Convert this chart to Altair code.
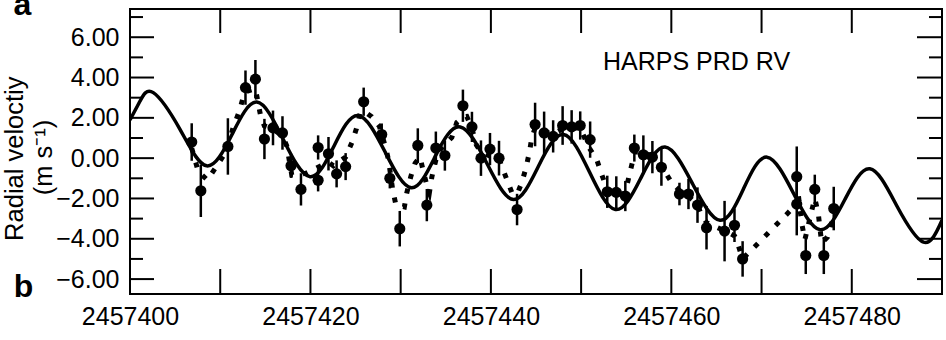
import altair as alt
import pandas as pd

JD0 = 2457400

# Observations (JD - 2457400), RV (m/s), error
obs_t = [6.84, 7.85, 10.85, 12.8, 13.9, 14.9, 15.85, 16.9, 17.85, 18.95,
         20.85, 20.85, 22.0, 22.9, 23.9, 25.9, 27.9, 28.8, 29.9, 31.9,
         32.9, 33.9, 34.9, 36.9, 37.9, 38.9, 39.9, 40.9, 42.9, 44.9,
         45.9, 46.9, 47.95, 48.95, 49.9, 51.0, 52.9, 53.9, 54.9, 55.9,
         56.9, 57.9, 58.9, 60.9, 61.9, 62.9, 63.9, 65.9, 67.0, 67.9,
         73.9, 73.9, 74.9, 75.9, 76.9, 78.0]
obs_v = [0.80, -1.62, 0.58, 3.50, 3.92, 0.95, 1.50, 1.25, -0.38, -1.55,
         0.53, -1.10, 0.22, -0.78, -0.42, 2.80, 1.17, -1.00, -3.50, 0.63,
         -2.33, 0.50, 0.13, 2.60, 1.55, 0.00, 0.45, 0.00, -2.55, 1.67,
         1.25, 1.08, 1.62, 1.55, 1.62, 0.92, -1.67, -1.70, -1.88, 0.50,
         0.17, 0.05, -0.45, -1.78, -1.78, -2.33, -3.45, -3.62, -3.33, -5.00,
         -0.92, -2.28, -4.83, -1.55, -4.83, -2.50]
obs_err = [0.93, 1.3, 1.4, 0.85, 0.95, 1.0, 0.86, 0.83, 0.6, 0.8,
           0.6, 0.55, 0.83, 0.67, 0.67, 0.7, 0.55, 0.5, 0.88, 0.85,
           0.8, 0.82, 0.75, 0.8, 0.75, 0.88, 0.8, 0.86, 0.78, 1.08,
           1.06, 0.8, 0.96, 0.83, 0.7, 0.9, 0.8, 0.8, 0.75, 0.67,
           0.96, 0.8, 0.92, 0.56, 0.75, 0.88, 1.08, 1.5, 0.83, 0.88,
           1.5, 1.55, 0.92, 0.73, 0.92, 1.08]

# Solid fitted curve (read at extrema and crossings)
fit_t = [0, 1.1, 2.58, 5.54, 8.5, 11.28, 14.05, 16.99, 19.96, 22.63,
         25.3, 28.25, 31.2, 33.9, 36.6, 39.55, 42.5, 45.27, 48.05, 50.93,
         53.8, 56.55, 59.3, 62.35, 65.4, 68.0, 70.6, 73.55, 76.5, 79.25,
         82.0, 84.97, 87.95, 90.0]
fit_v = [1.9, 2.82, 3.25, 1.43, -0.38, 1.15, 2.78, 0.93, -0.92, 0.62,
         2.12, 0.33, -1.47, 0.15, 1.55, -0.25, -2.05, -0.4, 1.17, -0.69,
         -2.55, -1.05, 0.55, -1.27, -3.08, -1.52, 0.05, -1.75, -3.55, -2.04,
         -0.53, -2.35, -4.17, -3.08]

# Dotted model path
model_t = [6.84, 7.57, 8.57, 9.53, 10.42, 10.85, 11.45, 12.12, 12.56, 12.8,
           13.9, 14.52, 14.9, 15.85, 16.9, 17.37, 17.93, 18.3, 19.5, 20.85,
           22.0, 22.54, 23.9, 24.6, 25.1, 25.5, 25.9, 26.8, 27.64, 28.27,
           28.64, 29.12, 29.48, 30.41, 30.68, 31.12, 31.6, 32.15, 32.52, 32.96,
           33.18, 33.45, 33.81, 34.18, 35.67, 36.22, 36.9, 37.33, 37.88, 38.39,
           38.9, 39.9, 40.9, 41.13, 41.69, 42.32, 42.9, 43.42, 43.9, 44.27,
           44.53, 44.9, 45.9, 46.9, 47.95, 48.95, 49.9, 50.8, 51.74, 52.3,
           52.85, 53.9, 54.9, 55.07, 55.43, 55.8, 55.9, 56.9, 57.9, 58.9,
           60.05, 60.9, 61.9, 62.9, 63.27, 63.9, 65.9, 67.0, 67.26, 67.9,
           73.9, 74.05, 74.45, 74.8, 75.55, 75.9, 76.28, 76.66, 77.3, 77.78,
           78.0]
model_v = [0.5, -0.67, -1.08, -0.45, 0.17, 0.6, 1.55, 2.33, 3.05, 3.3,
           3.45, 2.0, 1.6, 1.45, 1.1, 0.62, -0.83, -0.85, -0.75, -0.45,
           -0.2, -0.38, 0.05, 0.78, 1.47, 2.2, 2.35, 2.05, 1.58, 0.62,
           -0.05, -1.58, -2.33, -2.42, -1.72, -0.92, -0.25, 0.05, -0.67, -1.45,
           -1.72, -0.95, -0.25, 0.33, 1.03, 1.77, 2.05, 2.07, 1.5, 0.65,
           0.3, 0.1, 0.0, -0.33, -0.97, -1.7, -1.8, -1.22, -0.47, 0.3,
           1.0, 1.5, 1.3, 1.2, 1.45, 1.5, 1.5, 0.58, -0.08, -0.83,
           -1.5, -1.8, -1.75, -1.37, -0.67, 0.0, 0.3, 0.3, 0.1, -0.4,
           -1.22, -1.6, -1.9, -2.3, -2.75, -3.2, -3.6, -3.85, -4.1, -5.0,
           -2.28, -1.72, -3.22, -4.05, -2.62, -2.0, -2.72, -4.2, -3.92, -3.17,
           -2.7]

x_label_values = [2457400, 2457420, 2457440, 2457460, 2457480]
x_tick_values = [2457400, 2457410, 2457420, 2457430, 2457440, 2457450,
                 2457460, 2457470, 2457480, 2457490]
y_major = [-6, -4, -2, 0, 2, 4, 6]
y_minor = [-5, -3, -1, 1, 3, 5, 7]

W, H = 812, 285
FONT = "Liberation Sans"

xs = alt.Scale(domain=[2457400, 2457490], nice=False, zero=False)
ys = alt.Scale(domain=[-6.74, 7.40], nice=False, zero=False)

x_axis = alt.Axis(values=x_label_values, format="d", title=None, ticks=False,
                  domain=False, grid=False, labelFontSize=25, labelFont=FONT,
                  labelColor="black", labelPadding=10, labelFlush=False)
y_axis = alt.Axis(values=y_major, format=".2f", title=None, ticks=False,
                  domain=False, grid=False, labelFontSize=25, labelFont=FONT,
                  labelColor="black", labelPadding=11)


def X(field):
    return alt.X(field, scale=xs, axis=x_axis, title=None)


def Y(field):
    return alt.Y(field, scale=ys, axis=y_axis, title=None)


obs = pd.DataFrame({"t": [JD0 + t for t in obs_t], "v": obs_v, "e": obs_err})
fit = pd.DataFrame({"t": [JD0 + t for t in fit_t], "v": fit_v})
mod = pd.DataFrame({"t": [JD0 + t for t in model_t], "v": model_v})

fit_line = alt.Chart(fit).mark_line(
    color="black", strokeWidth=3.5, interpolate="natural", clip=True
).encode(x=X("t:Q"), y=Y("v:Q"))

model_line = alt.Chart(mod).mark_line(
    color="black", strokeWidth=5, strokeDash=[5, 10], clip=True
).encode(x=X("t:Q"), y=Y("v:Q"))

errbars = alt.Chart(obs).transform_calculate(
    lo="datum.v - datum.e", hi="datum.v + datum.e"
).mark_rule(color="black", strokeWidth=2.5).encode(
    x=X("t:Q"), y=Y("lo:Q"), y2="hi:Q")

points = alt.Chart(obs).mark_circle(color="black", size=125, opacity=1).encode(
    x=X("t:Q"), y=Y("v:Q"))

xt = alt.Chart(pd.DataFrame({"t": x_tick_values}))
xt_top = xt.mark_rule(color="black", strokeWidth=2).encode(
    x=X("t:Q"), y=alt.value(0), y2=alt.value(24))
xt_bot = xt.mark_rule(color="black", strokeWidth=2).encode(
    x=X("t:Q"), y=alt.value(H - 25), y2=alt.value(H))

ymj = alt.Chart(pd.DataFrame({"v": y_major}))
ymn = alt.Chart(pd.DataFrame({"v": y_minor}))
yl_maj = ymj.mark_rule(color="black", strokeWidth=2).encode(
    y=Y("v:Q"), x=alt.value(0), x2=alt.value(24))
yl_min = ymn.mark_rule(color="black", strokeWidth=2).encode(
    y=Y("v:Q"), x=alt.value(0), x2=alt.value(13))
yr_maj = ymj.mark_rule(color="black", strokeWidth=2).encode(
    y=Y("v:Q"), x=alt.value(W - 25), x2=alt.value(W))
yr_min = ymn.mark_rule(color="black", strokeWidth=2).encode(
    y=Y("v:Q"), x=alt.value(W - 13), x2=alt.value(W))


def label(text, x, y, size, angle=0, weight="normal", align="center",
          baseline="alphabetic"):
    return alt.Chart(pd.DataFrame({"s": [text]})).mark_text(
        font=FONT, fontSize=size, fontWeight=weight, color="black",
        align=align, baseline=baseline, angle=angle
    ).encode(text="s:N", x=alt.value(x), y=alt.value(y))


harps = label("HARPS PRD RV", 473, 60.7, 25, align="left")
ytitle1 = label("Radial veloctiy", -115.5, 149.7, 25.5, angle=270,
                baseline="middle")
ytitle2 = label("(m s\u207b\u00b9)", -86.5, 148.5, 25.5, angle=270,
                baseline="middle")
lab_a = label("a", -107.5, 6, 32, weight="bold")
lab_b = label("b", -106.5, 287.7, 32, weight="bold")

chart = alt.layer(
    fit_line, model_line, errbars, points,
    xt_top, xt_bot, yl_maj, yl_min, yr_maj, yr_min,
    harps, ytitle1, ytitle2, lab_a, lab_b,
).properties(
    width=W, height=H,
    autosize=alt.AutoSizeParams(type="none"),
    padding={"left": 130, "top": 9, "right": 4, "bottom": 46},
    background="white",
).configure_view(
    stroke="black", strokeWidth=2
)

chart.save("out.html", embed_options={"renderer": "svg", "actions": False})
